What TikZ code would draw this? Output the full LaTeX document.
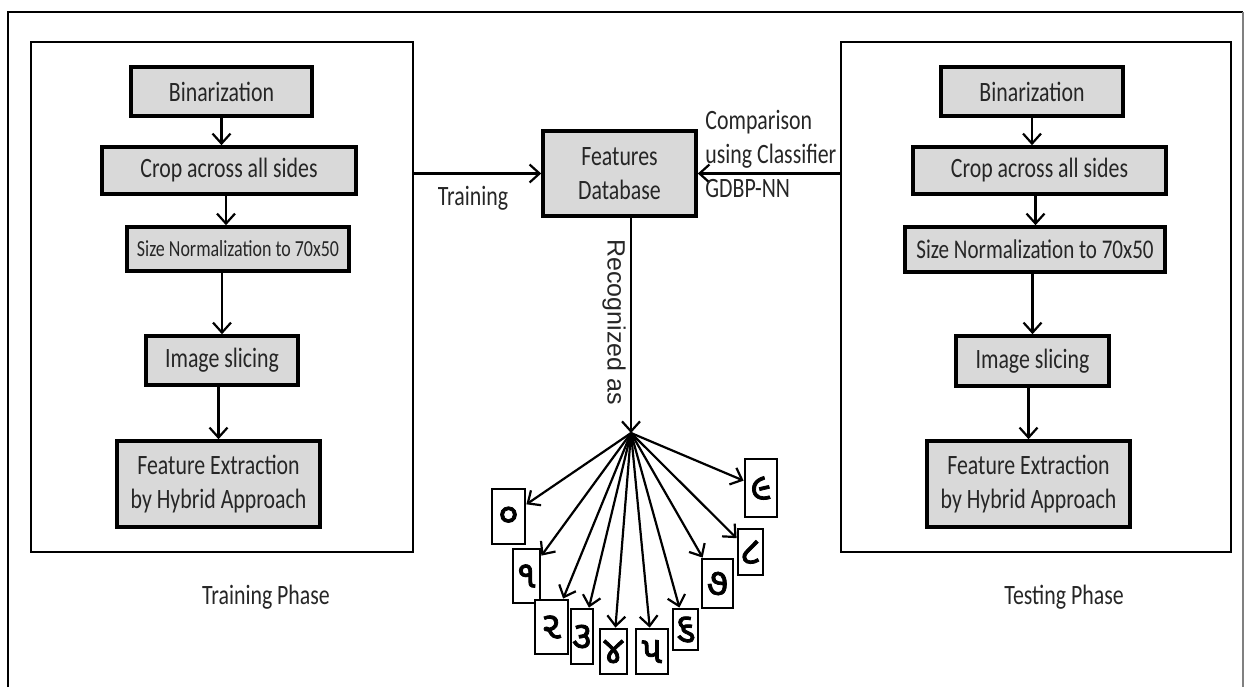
\documentclass[tikz,border=0pt]{standalone}
\usepackage{fontspec}
\setmainfont{Carlito}[FakeStretch=0.78]
\newfontfamily\gujfont[Script=Gujarati, FakeBold=2]{Noto Sans Gujarati UI}
\newfontfamily\arialfont{Liberation Sans}
\usetikzlibrary{calc, arrows.meta, positioning, shadows}

\definecolor{boxGray}{RGB}{217,217,217}
\definecolor{txtGray}{RGB}{38,38,38}

\tikzset{
  stepBox/.style={draw, line width=1.8pt, fill=boxGray, inner sep=0pt, align=center,
    text=txtGray, font=\fontsize{14}{17}\selectfont,
    drop shadow={shadow xshift=1pt, shadow yshift=-1pt, opacity=0.25}},
  panelBox/.style={draw, line width=1.4pt, inner sep=0pt},
  digitBox/.style={draw, line width=1.4pt, fill=white, inner sep=0pt, font=\gujfont\fontsize{19}{19}\selectfont},
  flowArr/.style={-{Straight Barb[length=5pt,width=9pt]}, line width=1.1pt},
  plainTxt/.style={text=txtGray, font=\fontsize{14}{17}\selectfont, inner sep=0pt}
}

\begin{document}
\begin{tikzpicture}[x=0.5pt, y=-0.5pt]

    \useasboundingbox (0,0) rectangle (1245,687);

    % outer frame (open at the bottom)
    \draw[line width=1.2pt] (8,687) -- (8,12) -- (1243,12);
    \draw[gray, line width=0.6pt] (1243,12) -- (1243,687);

    % training phase
    \node[panelBox, minimum width=191pt, minimum height=255pt] (nTrPanel) at (222,297) {};
    \node[stepBox, minimum width=90.5pt, minimum height=24.5pt] (nTrBin) at (221.5,91.5) {Binarization};
    \node[stepBox, minimum width=127pt, minimum height=23.5pt] (nTrCrop) at (229,170.5) {Crop across all sides};
    \node[stepBox, minimum width=111pt, minimum height=22pt, font=\fontsize{11.5}{14}\selectfont] (nTrSize) at (238,249) {Size Normalization to 70x50};
    \node[stepBox, minimum width=76pt, minimum height=24.5pt] (nTrSlice) at (222,360.5) {Image slicing};
    \node[stepBox, minimum width=101.5pt, minimum height=43pt] (nTrFeat) at (218.5,484) {Feature Extraction\\by Hybrid Approach};
    \node[plainTxt] (nTrLbl) at (266,597) {Training Phase};

    \draw[flowArr] (nTrBin.south) -- (nTrBin.south |- nTrCrop.north);
    \draw[flowArr] ([xshift=-1.5pt]nTrCrop.south) -- ([xshift=-1.5pt]nTrCrop.south |- nTrSize.north);
    \draw[flowArr] (nTrSlice.north |- nTrSize.south) -- (nTrSlice.north);
    \draw[flowArr] (nTrFeat.north |- nTrSlice.south) -- (nTrFeat.north);

    % testing phase
    \node[panelBox, minimum width=195pt, minimum height=255pt] (nTePanel) at (1036,297) {};
    \node[stepBox, minimum width=91pt, minimum height=24.5pt] (nTeBin) at (1032,91.5) {Binarization};
    \node[stepBox, minimum width=126.5pt, minimum height=23.5pt] (nTeCrop) at (1039.5,170.5) {Crop across all sides};
    \node[stepBox, minimum width=130pt, minimum height=22.5pt, font=\fontsize{13.5}{16}\selectfont] (nTeSize) at (1035,249.5) {Size Normalization to 70x50};
    \node[stepBox, minimum width=76.5pt, minimum height=25pt] (nTeSlice) at (1032.5,361) {Image slicing};
    \node[stepBox, minimum width=101.5pt, minimum height=43pt] (nTeFeat) at (1028.5,484) {Feature Extraction\\by Hybrid Approach};
    \node[plainTxt] (nTeLbl) at (1064,597) {Testing Phase};

    \draw[flowArr] (nTeBin.south) -- (nTeBin.south |- nTeCrop.north);
    \draw[flowArr] ([xshift=-2pt]nTeCrop.south) -- ([xshift=-2pt]nTeCrop.south |- nTeSize.north);
    \draw[flowArr] (nTeSlice.north |- nTeSize.south) -- (nTeSlice.north);
    \draw[flowArr] (nTeFeat.north |- nTeSlice.south) -- (nTeFeat.north);

    % database in the middle
    \node[stepBox, minimum width=76.5pt, minimum height=42.5pt] (nDb) at (619.5,173.5) {Features\\Database};
    \draw[flowArr] (nTrPanel.east |- nDb) -- (nDb.west);
    \draw[flowArr] (nTePanel.west |- nDb) -- (nDb.east);
    \node[plainTxt] (nTrainLbl) at (473,198) {Training};
    \node[plainTxt, anchor=west, align=left] (nCmpLbl) at (705,154) {Comparison\\using Classifier\\GDBP-NN};

    % recognized digits
    \coordinate (cHubPt) at (631,433);
    \draw[flowArr] (nDb.south -| cHubPt) -- (cHubPt);
    \node[rotate=-90, inner sep=0pt, text=txtGray, font=\arialfont\fontsize{12.5}{14}\selectfont] (nRecLbl) at (614,322) {Recognized as};

    \foreach \n/\cx/\cy/\w/\h/\g in
    {0/508.5/516.5/16.5/27.5/૦,
     1/526.5/576/13.5/27/૧,
     2/551.5/627/16.5/27/૨,
     3/582/636.5/11/27.5/૩,
     4/613.5/651.5/13.5/22.5/૪,
     5/652/651.5/16/22.5/૫,
     6/685.5/629.5/12.5/20.5/૬,
     7/717.5/583.5/15.5/24.5/૭,
     8/750.5/552/12.5/23/૮,
     9/761/488/16/29/૯
    }
    {
        \node[digitBox, minimum width=\w pt, minimum height=\h pt] (nDig\n) at (\cx,\cy) {\g};
        \draw[flowArr] (cHubPt) -- (nDig\n);
    };

\end{tikzpicture}
\end{document}
